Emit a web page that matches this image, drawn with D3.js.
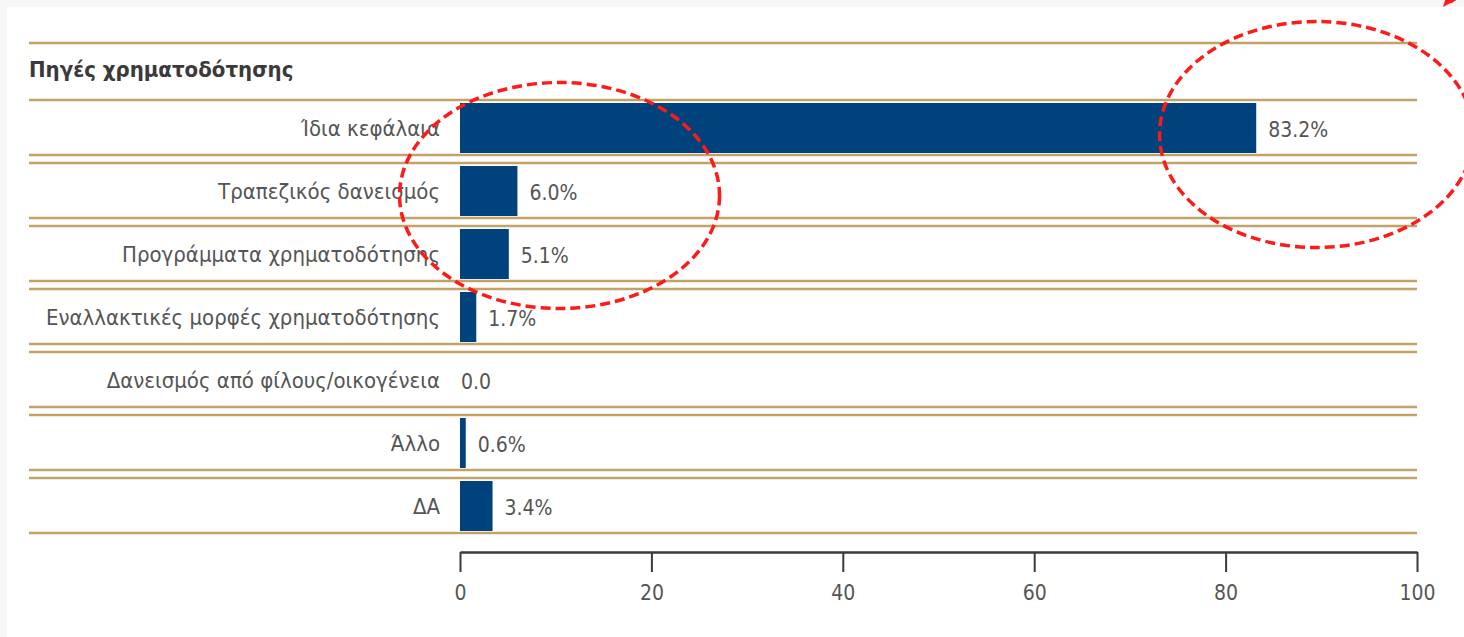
<!DOCTYPE html>
<html>

<head>
    <meta charset='utf-8'>
    <title>Πηγές χρηματοδότησης</title>
    <script type='text/javascript' src='https://cdn.jsdelivr.net/npm/d3@7'></script>
    <style>
        body { margin: 0; background: #f7f7f7; }
        svg { display: block; }
        text { font-family: 'DejaVu Sans Condensed', 'DejaVu Sans', sans-serif; font-stretch: condensed; }
    </style>
</head>

<body>
    <svg width='1464' height='637'></svg>
    <script type='text/javascript'>

        const title = 'Πηγές χρηματοδότησης'
        const categories = ['Ίδια κεφάλαια', 'Τραπεζικός δανεισμός', 'Προγράμματα χρηματοδότησης',
            'Εναλλακτικές μορφές χρηματοδότησης', 'Δανεισμός από φίλους/οικογένεια', 'Άλλο', 'ΔΑ']
        const values = [83.2, 6.0, 5.1, 1.7, 0.0, 0.6, 3.4]
        const valueLabels = ['83.2%', '6.0%', '5.1%', '1.7%', '0.0', '0.6%', '3.4%']
        const ticks = [0, 20, 40, 60, 80, 100]

        const svg = d3.select('svg')
        const width = +svg.attr('width')
        const height = +svg.attr('height')
        const gold = '#c2a266'
        const navy = '#00427c'

        // white panel over the grey page
        svg.append('rect').attr('x', 7).attr('y', 7)
            .attr('width', width - 7).attr('height', height - 7).attr('fill', '#fff')

        const x = d3.scaleLinear().domain([0, 100]).range([460, 1417])
        const y = d3.scaleBand().domain(categories).range([100, 533]).paddingInner(0.127)
        const lineLeft = 29
        const bandTop = d => Math.round(y(d))
        const bandBottom = d => Math.round(y(d) + y.bandwidth())

        // header row
        svg.append('line').attr('x1', lineLeft).attr('x2', x(100)).attr('y1', 43).attr('y2', 43)
            .attr('stroke', gold).attr('stroke-width', 2.5)
        svg.append('text').attr('x', lineLeft).attr('y', 77)
            .attr('font-size', 22).attr('font-weight', 'bold').attr('fill', '#3a3a3a')
            .text(title)

        const rows = svg.selectAll('g.row').data(categories).enter()
            .append('g').attr('class', 'row')

        // double gold rules: top and bottom of every band
        rows.append('line').attr('x1', lineLeft).attr('x2', x(100))
            .attr('y1', bandTop).attr('y2', bandTop)
            .attr('stroke', gold).attr('stroke-width', 2.5)
        rows.append('line').attr('x1', lineLeft).attr('x2', x(100))
            .attr('y1', bandBottom).attr('y2', bandBottom)
            .attr('stroke', gold).attr('stroke-width', 2.5)

        rows.append('rect')
            .attr('x', x(0))
            .attr('y', d => bandTop(d) + 3)
            .attr('width', (d, i) => x(values[i]) - x(0))
            .attr('height', y.bandwidth() - 5)
            .attr('fill', navy)

        rows.append('text')
            .attr('x', x(0) - 20)
            .attr('y', d => y(d) + y.bandwidth() / 2)
            .attr('dy', '0.4em')
            .attr('text-anchor', 'end')
            .attr('font-size', 22)
            .attr('fill', '#555')
            .text(d => d)

        rows.append('text')
            .attr('x', (d, i) => x(values[i]) + (values[i] > 0 ? 12 : 1))
            .attr('y', d => y(d) + y.bandwidth() / 2)
            .attr('dy', '0.45em')
            .attr('font-size', 21)
            .attr('fill', '#555')
            .text((d, i) => valueLabels[i])

        // x axis
        const axis = svg.append('g').attr('transform', 'translate(0,552)')
            .call(d3.axisBottom(x).tickValues(ticks).tickSize(20).tickSizeOuter(0).tickPadding(13))
        axis.select('.domain').attr('stroke', '#3a3a3a').attr('stroke-width', 2.5)
        axis.selectAll('.tick line').attr('stroke', '#3a3a3a').attr('stroke-width', 2)
        axis.selectAll('.tick text').attr('font-size', 21).attr('fill', '#555')
            .style('font-family', "'DejaVu Sans Condensed', 'DejaVu Sans', sans-serif")

        // red dashed annotations
        const notes = [
            { value: 10.4, row: 1, dy: 5, rx: 160, ry: 113 },
            { value: 89.5, row: 0, dy: 7, rx: 157, ry: 113 }
        ]
        svg.selectAll('ellipse').data(notes).enter().append('ellipse')
            .attr('cx', d => x(d.value))
            .attr('cy', d => y(categories[d.row]) + y.bandwidth() / 2 + d.dy)
            .attr('rx', d => d.rx).attr('ry', d => d.ry)
            .attr('fill', 'none').attr('stroke', '#ff1a1a')
            .attr('stroke-width', 3.5).attr('stroke-dasharray', '10 5')

        // arrow tip cut off at the top right corner
        svg.append('path').attr('d', 'M1443,7 L1447,-6 L1458,-1 Z').attr('fill', '#ff1a1a')
        svg.append('line').attr('x1', 1450).attr('y1', 2).attr('x2', 1475).attr('y2', -15)
            .attr('stroke', '#ff1a1a').attr('stroke-width', 3.5)
    </script>
</body>

</html>
